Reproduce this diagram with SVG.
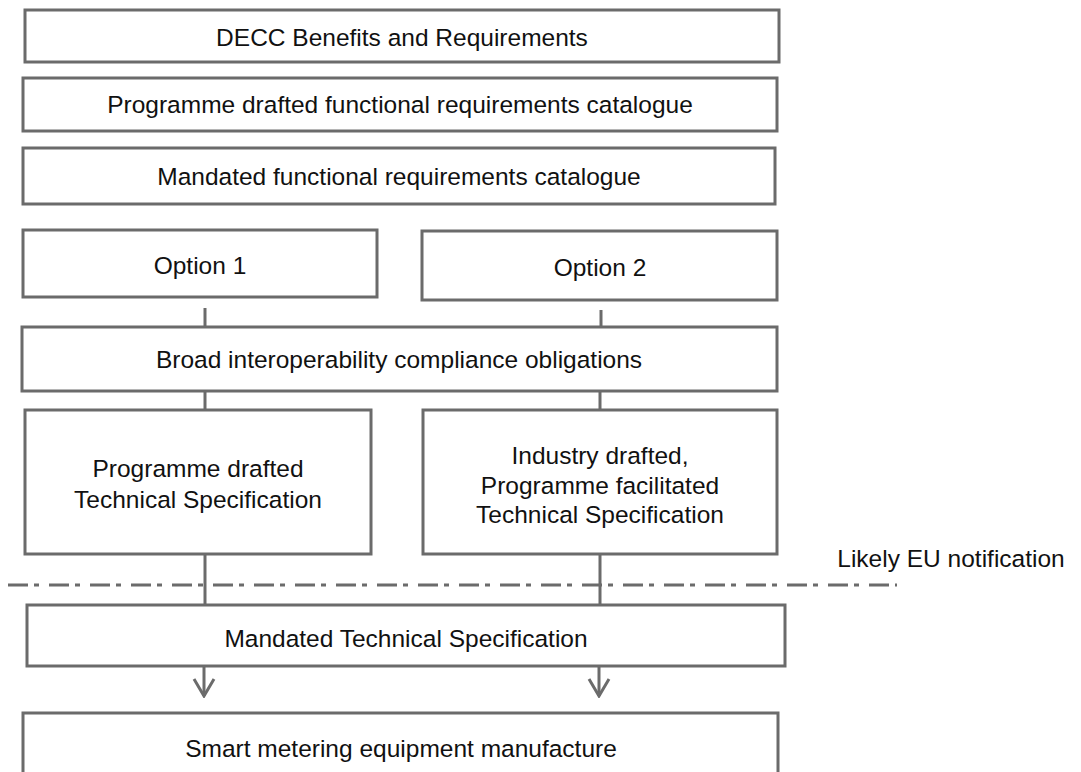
<svg xmlns="http://www.w3.org/2000/svg" width="1081" height="772" viewBox="0 0 1081 772">
<defs>
<style>
.box{fill:#fff;stroke:#6b6b6b;stroke-width:3}
.t{font-family:"Liberation Sans",Arial,sans-serif;font-size:24.5px;fill:#111;text-anchor:middle}
.c{stroke:#6b6b6b;stroke-width:3;fill:none}
.dd{stroke:#6b6b6b;stroke-width:3;fill:none;stroke-dasharray:20 6 5 10}
</style>
<marker id="arr" markerWidth="22" markerHeight="24" viewBox="-20 -12 22 24" refX="0" refY="0" orient="auto" markerUnits="userSpaceOnUse">
<path d="M-17,-10 L0,0 L-17,10" fill="none" stroke="#6b6b6b" stroke-width="3"/>
</marker>
</defs>
<g id="connectors">
<line class="c" x1="205" y1="308" x2="205" y2="327"/>
<line class="c" x1="601" y1="310" x2="601" y2="327"/>
<line class="c" x1="205" y1="391" x2="205" y2="410"/>
<line class="c" x1="600" y1="391" x2="600" y2="410"/>
<line class="c" x1="205" y1="554" x2="205" y2="605"/>
<line class="c" x1="600" y1="554" x2="600" y2="605"/>
<line class="c" x1="204" y1="666" x2="204" y2="696" marker-end="url(#arr)"/>
<line class="c" x1="599" y1="666" x2="599" y2="696" marker-end="url(#arr)"/>
<line class="dd" x1="8" y1="585" x2="897" y2="585"/>
</g>
<g id="decc"><rect class="box" x="25" y="10" width="754" height="52"/><text class="t" x="402" y="46">DECC Benefits and Requirements</text></g>
<g id="prog-func"><rect class="box" x="23" y="78" width="754" height="53"/><text class="t" x="400" y="113">Programme drafted functional requirements catalogue</text></g>
<g id="mand-func"><rect class="box" x="23" y="148" width="752" height="56"/><text class="t" x="399" y="185">Mandated functional requirements catalogue</text></g>
<g id="option1"><rect class="box" x="23" y="230" width="354" height="67"/><text class="t" x="200" y="274">Option 1</text></g>
<g id="option2"><rect class="box" x="422" y="231" width="355" height="69"/><text class="t" x="600" y="276">Option 2</text></g>
<g id="broad"><rect class="box" x="22" y="327" width="755" height="64"/><text class="t" x="399" y="368">Broad interoperability compliance obligations</text></g>
<g id="prog-ts"><rect class="box" x="25" y="410" width="346" height="144"/><text class="t" x="198" y="477">Programme drafted</text><text class="t" x="198" y="508">Technical Specification</text></g>
<g id="ind-ts"><rect class="box" x="423" y="410" width="354" height="144"/><text class="t" x="600" y="464">Industry drafted,</text><text class="t" x="600" y="494">Programme facilitated</text><text class="t" x="600" y="523">Technical Specification</text></g>
<g id="eu-label"><text class="t" x="951" y="567">Likely EU notification</text></g>
<g id="mand-ts"><rect class="box" x="27" y="605" width="758" height="61"/><text class="t" x="406" y="647">Mandated Technical Specification</text></g>
<g id="smart"><rect class="box" x="23" y="713" width="755" height="80"/><text class="t" x="401" y="757">Smart metering equipment manufacture</text></g>
</svg>
